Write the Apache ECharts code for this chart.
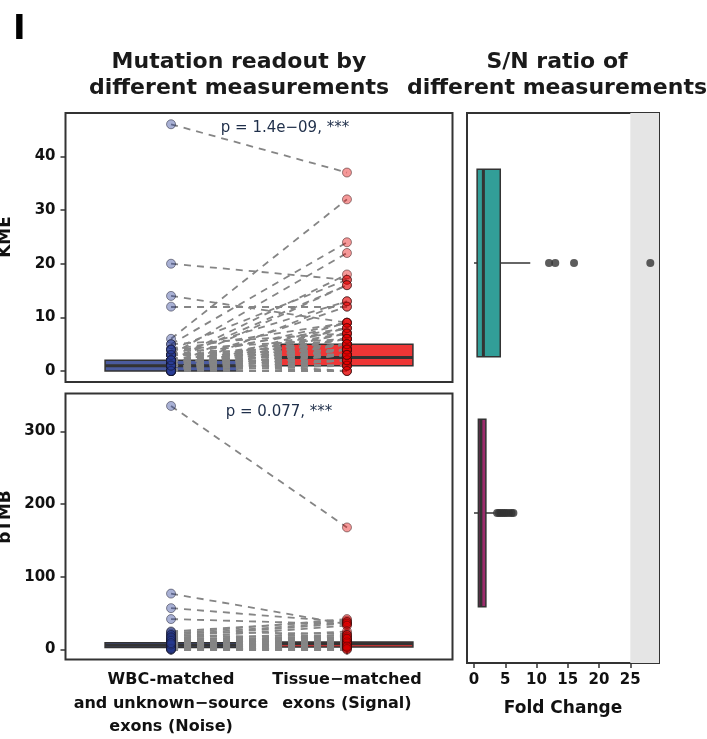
<!DOCTYPE html>
<html>
<head>
<meta charset="utf-8">
<script src="https://cdn.jsdelivr.net/npm/echarts@6/dist/echarts.min.js"></script>
<style>
  html, body { margin: 0; padding: 0; background: #fff; }
  #chart { width: 707px; height: 739px; }
</style>
</head>
<body>
<div id="chart"></div>
<script>
// categories on the left panels (x = 1 and x = 2)
const categories = ['WBC-matched\nand unknown\u2212source\nexons (Noise)', 'Tissue\u2212matched\nexons (Signal)'];

// paired KME values, noise[i] -> signal[i]
const kmeNoise = [
  46, 20, 14, 12, 6, 5, 3, 2, 4, 1,
  2, 0, 3, 1, 0, 1, 2, 0, 1, 3,
  0, 1, 2, 0, 1, 4, 0, 1, 2, 0,
  1, 0, 1, 2, 0, 1, 0, 1, 2, 3,
  5, 0, 1, 2, 0, 3, 4, 1, 0, 2,
  1, 0, 2, 1, 0, 3, 0, 1, 4, 2
];
const kmeSignal = [
  37, 17, 9, 12, 32, 24, 22, 18, 17, 16,
  16, 13, 13, 12, 9, 8, 9, 7, 7, 8,
  6, 6, 5, 5, 5, 6, 4, 4, 4, 3,
  3, 2, 2, 3, 1, 1, 0, 0, 2, 5,
  7, 2, 3, 6, 4, 4, 9, 5, 8, 7,
  1, 3, 1, 6, 5, 3, 2, 4, 3, 0
];

// paired bTMB values
const btmbNoise = [
  335, 77, 57, 42, 25, 22, 20, 18, 15, 24,
  12, 10, 8, 20, 5, 3, 6, 9, 2, 0,
  4, 7, 11, 13, 16, 1, 5, 3, 8, 6,
  2, 10, 4, 14, 17, 12, 0, 1, 7, 9
];
const btmbSignal = [
  168, 35, 38, 35, 40, 42, 38, 36, 33, 22,
  25, 20, 18, 15, 12, 10, 8, 5, 4, 2,
  6, 10, 14, 9, 12, 3, 7, 5, 11, 9,
  6, 13, 8, 17, 20, 10, 0, 1, 4, 15
];

// box stats: [q1, median, q3]
const kmeNoiseBox = [0, 1, 2];
const kmeSignalBox = [1, 2.5, 5];
const btmbNoiseBox = [3, 6, 9.5];
const btmbSignalBox = [3.5, 8, 10.5];

// fold change boxes: [low whisker, q1, median, q3, high whisker]
const foldKmeBox = [0, 0.5, 1.5, 4.2, 9];
const foldKmeOutliers = [12, 13, 16, 28.2];
const foldBtmbBox = [0, 0.7, 1.1, 1.9, 3.3];
const foldBtmbOutliers = [3.7, 4.0, 4.3, 4.6, 4.9, 5.2, 5.6, 6.0, 6.3];

const kmeTicks = [0, 10, 20, 30, 40];
const btmbTicks = [0, 100, 200, 300];
const foldTicks = [0, 5, 10, 15, 20, 25];

const FONT = 'DejaVu Sans';
const INK = '#111';
const FRAME = '#333';
const BOX_W = 0.75;

var myChart = echarts.init(document.getElementById('chart'));

function pairLines(noise, signal) {
    return noise.map((v, i) => ({ coords: [[1, v], [2, signal[i]]] }));
}

// vertical boxes on the left panels
function renderVBox(params, api) {
    const x = api.value(0);
    const lo = api.coord([x - BOX_W / 2, api.value(1)]);
    const hi = api.coord([x + BOX_W / 2, api.value(3)]);
    const med = api.coord([x, api.value(2)]);
    return {
        type: 'group',
        children: [{
            type: 'rect',
            shape: { x: lo[0], y: hi[1], width: hi[0] - lo[0], height: lo[1] - hi[1] },
            style: { fill: api.visual('color'), stroke: FRAME, lineWidth: 1.5 }
        }, {
            type: 'line',
            shape: { x1: lo[0], y1: med[1], x2: hi[0], y2: med[1] },
            style: { stroke: FRAME, lineWidth: 3 }
        }]
    };
}

// horizontal boxes on the fold change panel
function renderHBox(params, api) {
    const y = api.value(0);
    const wLo = api.coord([api.value(1), y]);
    const q1 = api.coord([api.value(2), y - BOX_W / 2]);
    const med = api.coord([api.value(3), y]);
    const q3 = api.coord([api.value(4), y + BOX_W / 2]);
    const wHi = api.coord([api.value(5), y]);
    const top = Math.min(q1[1], q3[1]);
    const h = Math.abs(q3[1] - q1[1]);
    return {
        type: 'group',
        children: [{
            type: 'line',
            shape: { x1: wLo[0], y1: wLo[1], x2: q1[0], y2: wLo[1] },
            style: { stroke: FRAME, lineWidth: 1.5 }
        }, {
            type: 'line',
            shape: { x1: q3[0], y1: wHi[1], x2: wHi[0], y2: wHi[1] },
            style: { stroke: FRAME, lineWidth: 1.5 }
        }, {
            type: 'rect',
            shape: { x: q1[0], y: top, width: q3[0] - q1[0], height: h },
            style: { fill: api.visual('color'), stroke: FRAME, lineWidth: 1.5 }
        }, {
            type: 'line',
            shape: { x1: med[0], y1: top, x2: med[0], y2: top + h },
            style: { stroke: FRAME, lineWidth: 3 }
        }]
    };
}

const noisePoint = { color: 'rgba(40,60,150,0.5)', borderColor: 'rgba(20,20,40,0.6)', borderWidth: 1 };
const signalPoint = { color: 'rgba(230,0,0,0.5)', borderColor: 'rgba(40,10,10,0.6)', borderWidth: 1 };
const dashStyle = { color: '#858585', width: 1.8, type: [7, 6], opacity: 1 };

function tickAxis(ticks) {
    return {
        axisLine: { show: false },
        axisTick: { show: true, length: 5, customValues: ticks, lineStyle: { color: FRAME, width: 1.5 } },
        axisLabel: { customValues: ticks, color: INK, fontFamily: FONT, fontWeight: 'bold', fontSize: 15, margin: 10 },
        splitLine: { show: false }
    };
}

const option = {
    animation: false,
    backgroundColor: '#fff',
    grid: [
        { left: 65.5, top: 113, width: 387, height: 269, show: true, borderColor: FRAME, borderWidth: 2 },
        { left: 65.5, top: 393.5, width: 387, height: 268, show: true, borderColor: FRAME, borderWidth: 2 },
        { left: 467, top: 113, width: 192, height: 550, show: true, borderColor: FRAME, borderWidth: 2 }
    ],
    xAxis: [
        { gridIndex: 0, type: 'value', min: 0.4, max: 2.6, show: false },
        Object.assign({ gridIndex: 1, type: 'value', min: 0.4, max: 2.6 }, tickAxis([1, 2]), {
            axisLabel: {
                customValues: [1, 2],
                formatter: v => categories[Math.round(v) - 1],
                color: INK, fontFamily: FONT, fontWeight: 'bold', fontSize: 16, lineHeight: 23.5, margin: 9
            }
        }),
        Object.assign({ gridIndex: 2, type: 'value', min: -1.12, max: 29.59 }, tickAxis(foldTicks), {
            name: 'Fold Change', nameLocation: 'middle', nameGap: 37,
            nameTextStyle: { color: INK, fontFamily: FONT, fontWeight: 'bold', fontSize: 17 }
        })
    ],
    yAxis: [
        Object.assign({ gridIndex: 0, type: 'value', min: -2.05, max: 48.1 }, tickAxis(kmeTicks)),
        Object.assign({ gridIndex: 1, type: 'value', min: -13.6, max: 352.1 }, tickAxis(btmbTicks)),
        { gridIndex: 2, type: 'value', min: 0.4, max: 2.6, inverse: true, show: false }
    ],
    graphic: [
        { type: 'text', left: 13, top: 13, style: { text: 'I', font: 'bold 34px ' + FONT, fill: '#000' } },
        { type: 'text', x: 239, y: 49, style: { text: 'Mutation readout by\ndifferent measurements', font: 'bold 22px ' + FONT, fill: '#1a1a1a', align: 'center', verticalAlign: 'top', lineHeight: 26 } },
        { type: 'text', x: 557, y: 49, style: { text: 'S/N ratio of\ndifferent measurements', font: 'bold 22px ' + FONT, fill: '#1a1a1a', align: 'center', verticalAlign: 'top', lineHeight: 26 } },
        { type: 'text', x: 6, y: 237, rotation: Math.PI / 2, style: { text: 'KME', font: 'bold 17px ' + FONT, fill: INK, align: 'center', verticalAlign: 'middle' } },
        { type: 'text', x: 6, y: 517, rotation: Math.PI / 2, style: { text: 'bTMB', font: 'bold 17px ' + FONT, fill: INK, align: 'center', verticalAlign: 'middle' } },
        { type: 'text', x: 285, y: 128, style: { text: 'p = 1.4e\u221209, ***', font: '15px ' + FONT, fill: '#1f2f4a', align: 'center', verticalAlign: 'middle' } },
        { type: 'text', x: 279, y: 412, style: { text: 'p = 0.077, ***', font: '15px ' + FONT, fill: '#1f2f4a', align: 'center', verticalAlign: 'middle' } }
    ],
    series: [
        // KME panel
        {
            type: 'custom', xAxisIndex: 0, yAxisIndex: 0, z: 1, renderItem: renderVBox,
            data: [
                { value: [1].concat(kmeNoiseBox), itemStyle: { color: '#4b5b9f' } },
                { value: [2].concat(kmeSignalBox), itemStyle: { color: '#ee3636' } }
            ]
        },
        {
            type: 'lines', coordinateSystem: 'cartesian2d', xAxisIndex: 0, yAxisIndex: 0, z: 2, silent: true,
            lineStyle: dashStyle, data: pairLines(kmeNoise, kmeSignal)
        },
        {
            type: 'scatter', xAxisIndex: 0, yAxisIndex: 0, z: 3, symbolSize: 9, itemStyle: noisePoint,
            data: kmeNoise.map(v => [1, v])
        },
        {
            type: 'scatter', xAxisIndex: 0, yAxisIndex: 0, z: 3, symbolSize: 9, itemStyle: signalPoint,
            data: kmeSignal.map(v => [2, v])
        },
        // bTMB panel
        {
            type: 'custom', xAxisIndex: 1, yAxisIndex: 1, z: 1, renderItem: renderVBox,
            data: [
                { value: [1].concat(btmbNoiseBox), itemStyle: { color: '#4b5b9f' } },
                { value: [2].concat(btmbSignalBox), itemStyle: { color: '#ee3636' } }
            ]
        },
        {
            type: 'lines', coordinateSystem: 'cartesian2d', xAxisIndex: 1, yAxisIndex: 1, z: 2, silent: true,
            lineStyle: dashStyle, data: pairLines(btmbNoise, btmbSignal)
        },
        {
            type: 'scatter', xAxisIndex: 1, yAxisIndex: 1, z: 3, symbolSize: 9, itemStyle: noisePoint,
            data: btmbNoise.map(v => [1, v])
        },
        {
            type: 'scatter', xAxisIndex: 1, yAxisIndex: 1, z: 3, symbolSize: 9, itemStyle: signalPoint,
            data: btmbSignal.map(v => [2, v])
        },
        // fold change panel
        {
            type: 'custom', xAxisIndex: 2, yAxisIndex: 2, z: 1, renderItem: renderHBox,
            markArea: {
                silent: true,
                itemStyle: { color: '#e5e5e5' },
                data: [[{ xAxis: 25 }, { xAxis: 29.59 }]]
            },
            data: [
                { value: [1].concat(foldKmeBox), itemStyle: { color: '#329e98' } },
                { value: [2].concat(foldBtmbBox), itemStyle: { color: '#9c2c6c' } }
            ]
        },
        {
            type: 'scatter', xAxisIndex: 2, yAxisIndex: 2, z: 3, symbolSize: 8,
            itemStyle: { color: '#333' },
            data: foldKmeOutliers.map(v => [v, 1]).concat(foldBtmbOutliers.map(v => [v, 2]))
        }
    ]
};

myChart.setOption(option);

window.addEventListener('resize', () => {
    if (myChart) {
        myChart.resize();
    }
});
</script>
</body>
</html>
